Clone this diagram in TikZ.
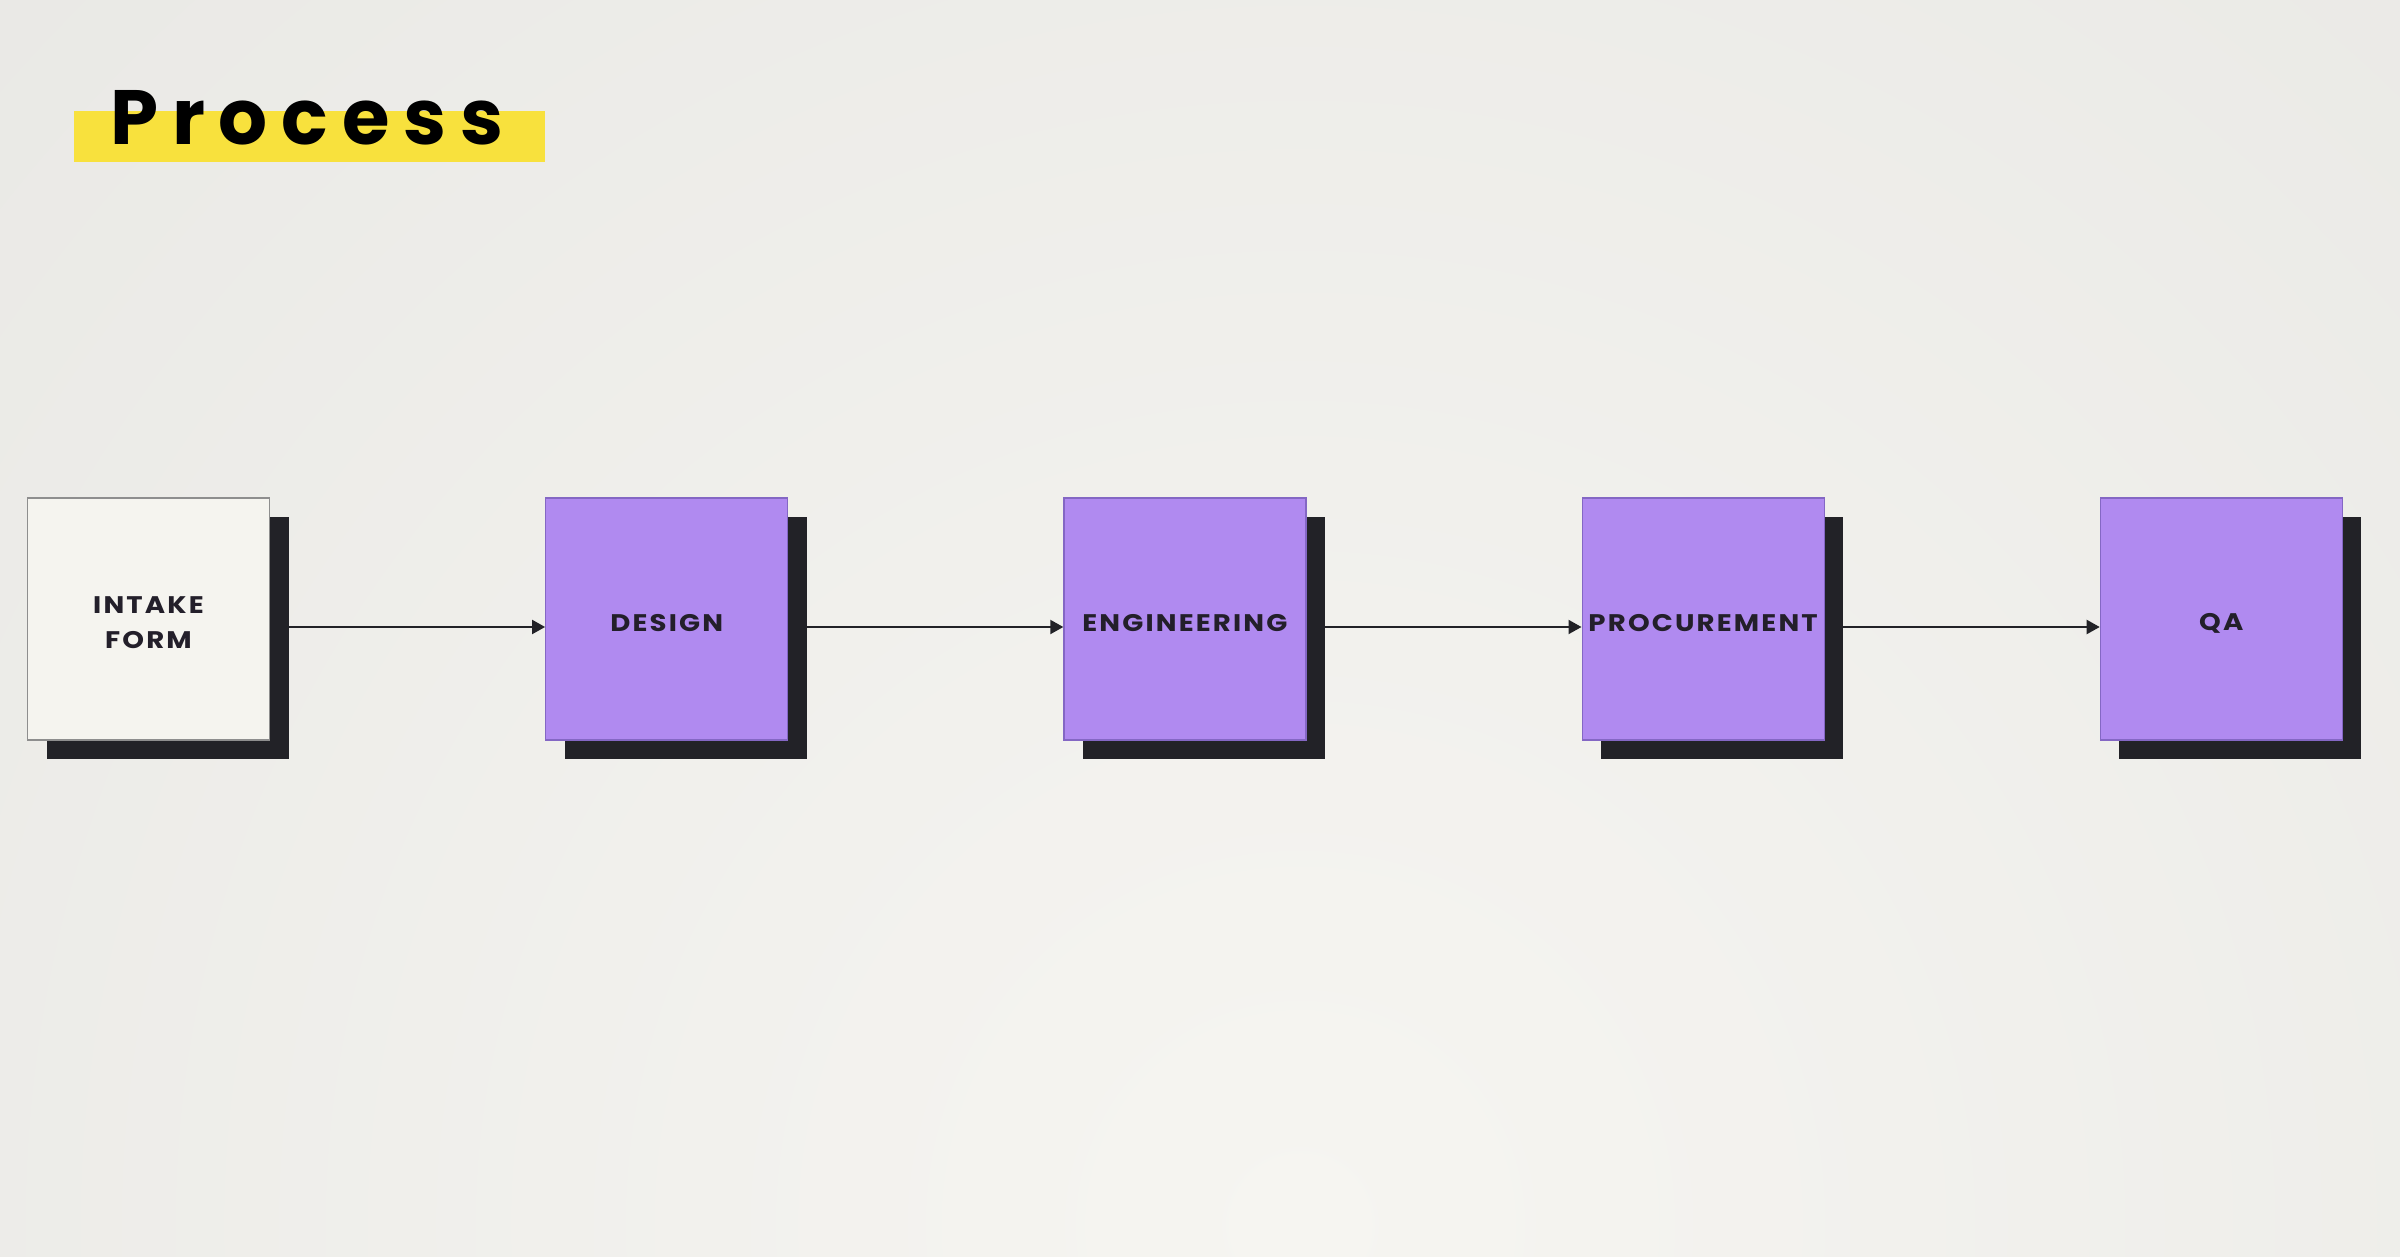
\documentclass[tikz,border=0pt]{standalone}
\usepackage{fontspec}
\usetikzlibrary{arrows.meta,calc}
\newfontfamily\titlefont[LetterSpace=18]{Poppins}
\newfontfamily\labelfont[LetterSpace=9,FakeStretch=1.15]{Poppins}
\definecolor{bgin}{HTML}{F6F5F1}
\definecolor{bgout}{HTML}{DFDFDC}
\definecolor{purp}{HTML}{B08AF0}
\definecolor{purpline}{HTML}{8467C4}
\definecolor{paper}{HTML}{F5F4EF}
\definecolor{paperline}{HTML}{8E8E8E}
\definecolor{shadowc}{HTML}{222227}
\definecolor{ink}{HTML}{231F2A}
\definecolor{hl}{HTML}{F8E13D}
\tikzset{
  stagebox/.style={draw=purpline, line width=1.2pt, fill=purp, minimum width=242pt, minimum height=242pt, inner sep=0pt},
  paperbox/.style={draw=paperline, line width=1.5pt, fill=paper, minimum width=242pt, minimum height=242pt, inner sep=0pt},
  dropbox/.style={draw=none, fill=shadowc, minimum width=242pt, minimum height=242pt, inner sep=0pt},
  lbl/.style={text=ink, font=\labelfont\bfseries\fontsize{24}{35}\selectfont, align=center, inner sep=0pt},
  arr/.style={draw=shadowc, line width=2pt, -{Triangle[length=13pt,width=14pt]}},
}
\begin{document}
\begin{tikzpicture}[x=1pt,y=-1pt]
\useasboundingbox (0,0) rectangle (2400,1257);
\begin{scope}
\clip (0,0) rectangle (2400,1257);
\shade[inner color=bgin, outer color=bgout] (1300,1225) circle (3300);
\end{scope}
% title
\fill[hl] (73.5,110.7) rectangle (545,161.7);
\node[anchor=base west, inner sep=0pt, text=black, font=\titlefont\bfseries\fontsize{77}{80}\selectfont] (title) at (110,145) {Process};
% shadows
\node[dropbox] (sa) at (167.5,638) {};
\node[dropbox] (sb) at (685.7,638) {};
\node[dropbox] (sc) at (1203.9,638) {};
\node[dropbox] (sd) at (1722.1,638) {};
\node[dropbox] (se) at (2240.3,638) {};
% boxes
\node[paperbox, label={[lbl, yshift=-3.4pt]center:INTAKE\\FORM}] (a) at (148.5,619) {};
\node[stagebox, label={[lbl, yshift=-4pt]center:DESIGN}] (b) at (666.7,619) {};
\node[stagebox, label={[lbl, yshift=-4pt]center:ENGINEERING}] (c) at (1184.9,619) {};
\node[stagebox, label={[lbl, yshift=-4pt]center:PROCUREMENT}] (d) at (1703.1,619) {};
\node[stagebox, label={[lbl, yshift=-4pt]center:QA}] (e) at (2221.3,619) {};
% arrows
\coordinate (ab) at ([yshift=-8pt]b.west);
\coordinate (ac) at ([yshift=-8pt]c.west);
\coordinate (ad) at ([yshift=-8pt]d.west);
\coordinate (ae) at ([yshift=-8pt]e.west);
\draw[arr] (sa.east |- ab) -- (ab);
\draw[arr] (sb.east |- ac) -- (ac);
\draw[arr] (sc.east |- ad) -- (ad);
\draw[arr] (sd.east |- ae) -- (ae);
\end{tikzpicture}
\end{document}
